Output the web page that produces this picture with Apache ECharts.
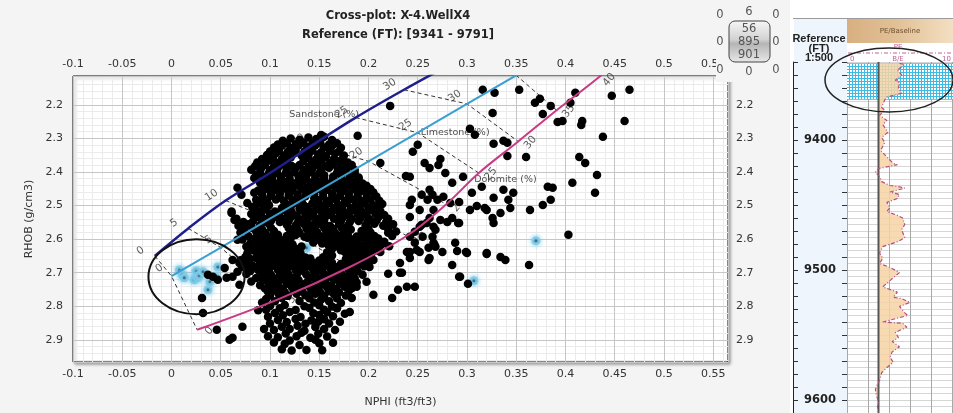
<!DOCTYPE html>
<html>
<head>
<meta charset="utf-8">
<script src="https://cdn.jsdelivr.net/npm/echarts@6/dist/echarts.min.js"></script>
<style>
  html, body { margin: 0; padding: 0; background: #f4f4f4; }
  #c { width: 953px; height: 413px; }
</style>
</head>
<body>
<div id="c"></div>
<script>
// ---- Cross-plot samples: [NPHI (ft3/ft3), RHOB (g/cm3)] ----
const cloudPoints = [
  [.113,2.307],[.121,2.300],[.130,2.304],[.139,2.297],[.147,2.302],[.155,2.295],[.163,2.305],[.152,2.290],
  [.104,2.327],[.112,2.322],[.121,2.329],[.129,2.321],[.138,2.326],[.146,2.320],[.155,2.327],[.163,2.322],[.172,2.328],
  [.097,2.349],[.106,2.344],[.114,2.351],[.123,2.345],[.132,2.350],[.140,2.343],[.149,2.348],[.157,2.353],[.166,2.345],[.175,2.351],
  [.087,2.372],[.099,2.366],[.108,2.373],[.117,2.368],[.134,2.367],[.143,2.371],[.152,2.366],[.161,2.373],[.170,2.368],[.179,2.372],
  [.081,2.393],[.091,2.389],[.100,2.395],[.108,2.388],[.117,2.392],[.126,2.387],[.134,2.394],[.143,2.389],[.152,2.393],[.160,2.387],[.169,2.392],[.178,2.389],[.186,2.394],
  [.086,2.409],[.094,2.415],[.103,2.410],[.111,2.414],[.120,2.408],[.129,2.413],[.137,2.409],[.146,2.416],[.155,2.410],[.164,2.414],[.172,2.408],[.181,2.412],[.190,2.416],
  [.090,2.433],[.098,2.429],[.107,2.435],[.116,2.430],[.125,2.434],[.133,2.428],[.142,2.433],[.151,2.430],[.159,2.435],[.168,2.429],[.177,2.433],[.186,2.428],[.194,2.434],
  [.088,2.455],[.097,2.450],[.106,2.454],[.114,2.449],[.123,2.455],[.132,2.451],[.141,2.456],[.149,2.450],[.158,2.453],[.167,2.449],[.176,2.455],[.185,2.451],[.193,2.456],[.202,2.451],
  [.093,2.477],[.101,2.471],[.110,2.476],[.119,2.470],[.128,2.475],[.136,2.472],[.145,2.478],[.154,2.473],[.163,2.477],[.171,2.471],[.180,2.476],[.189,2.472],[.198,2.477],[.208,2.473],
  [.090,2.494],[.099,2.499],[.117,2.497],[.125,2.492],[.134,2.498],[.143,2.494],[.152,2.499],[.160,2.493],[.169,2.497],[.178,2.492],[.187,2.498],[.196,2.494],[.205,2.499],[.214,2.495],
  [.061,2.518],[.087,2.517],[.096,2.512],[.105,2.518],[.114,2.513],[.122,2.519],[.131,2.514],[.140,2.518],[.149,2.512],[.158,2.517],[.166,2.513],[.175,2.519],[.184,2.514],[.193,2.518],[.202,2.513],[.212,2.517],
  [.066,2.539],[.086,2.535],[.095,2.540],[.104,2.534],[.112,2.539],[.121,2.535],[.130,2.541],[.139,2.536],[.148,2.540],[.156,2.534],[.165,2.539],[.174,2.535],[.183,2.540],[.192,2.536],[.201,2.541],[.210,2.535],[.220,2.539],
  [.068,2.560],[.078,2.556],[.090,2.559],[.099,2.555],[.117,2.556],[.126,2.560],[.134,2.554],[.143,2.559],[.152,2.555],[.161,2.561],[.170,2.556],[.179,2.560],[.197,2.559],[.206,2.554],[.215,2.560],[.225,2.556],
  [.070,2.580],[.086,2.577],[.095,2.582],[.104,2.576],[.121,2.577],[.130,2.582],[.139,2.576],[.148,2.580],[.157,2.575],[.166,2.581],[.175,2.577],[.193,2.576],[.202,2.580],[.220,2.581],[.228,2.577],
  [.072,2.601],[.085,2.597],[.094,2.602],[.103,2.598],[.112,2.603],[.121,2.597],[.138,2.596],[.147,2.602],[.156,2.598],[.165,2.603],[.174,2.597],[.183,2.601],[.192,2.596],[.201,2.602],[.210,2.598],
  [.076,2.622],[.087,2.618],[.096,2.623],[.105,2.617],[.114,2.621],[.123,2.616],[.132,2.622],[.159,2.617],[.168,2.621],[.177,2.616],[.186,2.622],[.195,2.618],[.204,2.623],[.213,2.617],[.221,2.621],
  [.077,2.642],[.086,2.638],[.095,2.643],[.104,2.639],[.113,2.644],[.122,2.638],[.131,2.642],[.158,2.639],[.176,2.638],[.185,2.642],[.194,2.637],[.203,2.643],[.212,2.638],
  [.070,2.663],[.080,2.659],[.096,2.664],[.105,2.660],[.114,2.665],[.123,2.659],[.132,2.663],[.141,2.658],[.150,2.664],[.159,2.660],[.177,2.659],[.186,2.663],[.195,2.658],[.205,2.662],
  [.072,2.684],[.083,2.680],[.095,2.685],[.104,2.679],[.113,2.684],[.122,2.680],[.131,2.686],[.140,2.681],[.149,2.685],[.158,2.679],[.167,2.684],[.176,2.680],[.186,2.685],[.196,2.681],
  [.076,2.704],[.092,2.701],[.101,2.706],[.110,2.700],[.119,2.705],[.128,2.701],[.137,2.706],[.146,2.700],[.155,2.704],[.164,2.699],[.173,2.705],[.182,2.701],
  [.081,2.726],[.093,2.722],[.102,2.727],[.111,2.721],[.120,2.726],[.129,2.722],[.138,2.728],[.147,2.723],[.156,2.727],[.165,2.721],[.174,2.726],[.183,2.722],[.188,2.729],
  [.095,2.747],[.104,2.743],[.113,2.748],[.122,2.742],[.131,2.746],[.140,2.741],[.149,2.747],[.158,2.743],[.167,2.748],[.176,2.742],[.183,2.746],
  [.100,2.768],[.109,2.764],[.118,2.769],[.127,2.763],[.136,2.767],[.146,2.763],[.155,2.769],[.165,2.764],[.177,2.768],
  [.092,2.789],[.105,2.785],[.130,2.784],[.145,2.789],[.160,2.785],[.172,2.790],
  [.096,2.810],[.110,2.806],[.126,2.811],[.140,2.805],[.155,2.810],[.168,2.806],
  [.098,2.831],[.113,2.827],[.131,2.832],[.150,2.826],[.164,2.830],
  [.100,2.851],[.117,2.847],[.136,2.852],[.149,2.846],[.160,2.851],
  [.104,2.871],[.120,2.868],[.135,2.873],[.155,2.868],
  [.108,2.892],[.127,2.889],[.141,2.894],[.158,2.890],
  [.115,2.912],[.130,2.915],[.150,2.910],
  [.122,2.932],[.137,2.930],
  // in-between samples of the main cluster
  [.108,2.318],[.117,2.314],[.126,2.317],[.134,2.313],[.143,2.316],[.151,2.312],[.160,2.318],[.168,2.314],
  [.100,2.339],[.109,2.336],[.118,2.340],[.126,2.335],[.135,2.339],[.143,2.336],[.152,2.341],[.161,2.337],[.170,2.339],
  [.092,2.361],[.103,2.358],[.112,2.362],[.121,2.357],[.139,2.358],[.147,2.362],[.156,2.357],[.165,2.361],[.174,2.359],
  [.085,2.382],[.095,2.379],[.104,2.383],[.113,2.378],[.122,2.382],[.130,2.379],[.139,2.384],[.148,2.380],[.156,2.383],[.165,2.378],[.174,2.382],[.183,2.379],
  [.090,2.400],[.099,2.404],[.107,2.399],[.116,2.403],[.125,2.400],[.133,2.405],[.142,2.401],[.150,2.404],[.168,2.403],[.177,2.400],[.186,2.404],
  [.092,2.425],[.102,2.420],[.111,2.424],[.120,2.421],[.129,2.426],[.137,2.422],[.146,2.425],[.155,2.420],[.164,2.424],[.173,2.421],[.181,2.425],[.190,2.421],
  [.094,2.441],[.103,2.445],[.111,2.440],[.120,2.444],[.129,2.441],[.138,2.446],[.146,2.442],[.155,2.445],[.164,2.440],[.172,2.444],[.181,2.441],[.190,2.445],[.198,2.441],
  [.084,2.462],[.092,2.466],[.101,2.461],[.110,2.465],[.119,2.462],[.128,2.467],[.137,2.463],[.145,2.466],[.154,2.461],[.163,2.465],[.172,2.462],[.180,2.466],[.189,2.462],[.198,2.465],[.205,2.461],
  [.086,2.483],[.097,2.487],[.106,2.482],[.114,2.486],[.123,2.483],[.132,2.488],[.149,2.484],[.158,2.487],[.167,2.482],[.176,2.486],[.185,2.483],[.193,2.487],[.202,2.483],[.211,2.486],
  [.082,2.504],[.094,2.508],[.112,2.507],[.121,2.504],[.130,2.509],[.138,2.505],[.147,2.508],[.156,2.503],[.165,2.507],[.173,2.504],[.182,2.508],[.191,2.504],[.200,2.507],[.209,2.503],
  [.081,2.525],[.091,2.529],[.100,2.524],[.109,2.528],[.118,2.525],[.127,2.530],[.136,2.526],[.144,2.529],[.153,2.524],[.162,2.528],[.171,2.525],[.180,2.529],[.189,2.525],[.198,2.528],[.207,2.524],[.216,2.528],
  [.073,2.549],[.083,2.546],[.092,2.550],[.101,2.545],[.110,2.549],[.119,2.546],[.128,2.551],[.137,2.547],[.146,2.550],[.155,2.545],[.172,2.546],[.181,2.550],[.190,2.546],[.199,2.549],[.208,2.545],[.218,2.549],
  [.074,2.570],[.082,2.567],[.092,2.571],[.101,2.566],[.119,2.567],[.128,2.572],[.137,2.568],[.146,2.571],[.155,2.566],[.164,2.570],[.173,2.567],[.182,2.571],[.200,2.570],[.220,2.570],
  [.078,2.591],[.090,2.588],[.099,2.592],[.108,2.587],[.117,2.591],[.126,2.588],[.135,2.593],[.144,2.589],[.152,2.592],[.161,2.587],[.170,2.591],[.179,2.588],[.188,2.592],[.197,2.588],[.206,2.591],[.224,2.591],
  [.080,2.612],[.090,2.609],[.099,2.613],[.108,2.608],[.117,2.612],[.144,2.610],[.153,2.613],[.162,2.608],[.171,2.612],[.180,2.609],[.189,2.613],[.198,2.609],[.207,2.612],[.216,2.608],
  [.082,2.633],[.091,2.630],[.100,2.634],[.109,2.629],[.118,2.633],[.127,2.630],[.163,2.629],[.172,2.633],[.181,2.630],[.190,2.634],[.199,2.630],[.208,2.633],
  [.075,2.653],[.091,2.650],[.100,2.654],[.109,2.649],[.118,2.653],[.127,2.650],[.136,2.655],[.154,2.654],[.163,2.649],[.181,2.650],[.190,2.654],[.199,2.650],
  [.077,2.674],[.090,2.671],[.100,2.675],[.109,2.670],[.118,2.674],[.127,2.671],[.136,2.676],[.145,2.672],[.154,2.675],[.163,2.670],[.172,2.674],[.181,2.671],[.191,2.675],[.200,2.671],
  [.080,2.695],[.088,2.692],[.099,2.696],[.108,2.691],[.117,2.695],[.126,2.692],[.135,2.697],[.144,2.693],[.153,2.696],[.162,2.691],[.171,2.695],[.180,2.692],[.189,2.696],
  [.086,2.716],[.097,2.713],[.106,2.717],[.115,2.712],[.124,2.716],[.142,2.714],[.151,2.717],[.160,2.712],[.169,2.716],[.178,2.713],[.186,2.717],
  [.090,2.737],[.099,2.734],[.108,2.738],[.117,2.733],[.126,2.737],[.135,2.734],[.144,2.739],[.153,2.735],[.162,2.738],[.171,2.733],[.180,2.737],
  [.098,2.757],[.106,2.754],[.115,2.758],[.124,2.753],[.133,2.757],[.142,2.754],[.151,2.759],[.160,2.755],[.170,2.758],[.180,2.754],
  [.096,2.778],[.112,2.775],[.140,2.776],[.152,2.780],[.168,2.776],
  [.100,2.799],[.115,2.796],[.135,2.800],[.150,2.797],[.163,2.801],
  [.105,2.820],[.120,2.817],[.144,2.821],[.158,2.818],
  [.108,2.841],[.126,2.838],[.142,2.842],[.155,2.839],
  [.112,2.861],[.128,2.858],[.146,2.862],
  [.116,2.881],[.132,2.879],[.149,2.882],
  [.120,2.902],[.146,2.900],
  // lower spread of the cluster
  [.094,2.868],[.098,2.889],[.166,2.871],[.171,2.846],[.112,2.928],[.153,2.931],[.164,2.909],[.088,2.812],[.176,2.822],[.104,2.908],
  // sparse points along the sandstone side
  [.084,2.418],[.067,2.447],[.071,2.468],[.061,2.522],[.064,2.543],[.074,2.557],[.067,2.602],[.086,2.498],[.077,2.492],[.092,2.459],[.102,2.424],
  // low-porosity group near the limestone origin
  [.031,2.775],[.032,2.820],[.037,2.706],[.042,2.712],[.047,2.721],[.056,2.715],[.062,2.712],[.067,2.697],[.069,2.671],[.074,2.668],
  [.079,2.686],[.086,2.656],[.092,2.647],[.097,2.662],[.062,2.662],[.054,2.686],[.069,2.736],[.046,2.870],[.059,2.900],[.062,2.894],[.072,2.861],
  // scattered high-porosity samples
  [.316,2.155],[.328,2.164],[.353,2.155],[.374,2.182],[.369,2.194],[.385,2.203],[.410,2.164],[.405,2.194],[.447,2.173],[.465,2.155],
  [.326,2.224],[.377,2.227],[.392,2.251],[.397,2.248],[.417,2.248],[.416,2.260],[.460,2.248],[.222,2.203],[.303,2.271],[.308,2.289],
  [.327,2.316],[.337,2.307],[.341,2.313],[.341,2.352],[.360,2.355],[.438,2.295],[.189,2.292],[.250,2.319],[.245,2.340],[.212,2.373],
  [.414,2.355],[.420,2.373],[.432,2.409],[.407,2.432],[.382,2.444],[.387,2.447],[.278,2.403],[.296,2.414],[.285,2.432],[.273,2.361],
  [.271,2.379],[.257,2.373],[.262,2.388],[.238,2.412],[.242,2.414],
  [.430,2.462],[.385,2.483],[.377,2.498],[.364,2.513],[.403,2.587],[.363,2.677],[.334,2.653],[.339,2.662],[.320,2.644],[.301,2.733],
  [.292,2.712],[.285,2.677],[.288,2.611],[.299,2.638],[.290,2.635],[.275,2.638],[.266,2.611],[.261,2.626],[.261,2.662],[.247,2.742],
  [.239,2.742],[.230,2.751],[.224,2.775],[.205,2.766],[.220,2.703],[.232,2.700],[.249,2.632],[.247,2.611],[.242,2.638],[.342,2.483],
  [.344,2.507],[.334,2.522],[.326,2.537],[.327,2.552],[.320,2.513],[.315,2.444],[.303,2.513],[.305,2.462],[.292,2.489],[.292,2.552],
  [.285,2.537],[.283,2.492],[.276,2.474],[.270,2.483],[.265,2.468],[.280,2.549],[.268,2.572],[.259,2.552],[.252,2.563],[.255,2.593],
  [.267,2.617],[.327,2.477],[.337,2.453],[.347,2.462],[.254,2.468],[.262,2.453],[.260,2.483],[.310,2.501],[.318,2.507],[.244,2.483],
  [.242,2.498],[.252,2.513],[.266,2.513],[.262,2.537],[.273,2.543],[.291,2.552],[.242,2.534],[.254,2.557],[.266,2.563],[.247,2.578],
  [.242,2.593],[.265,2.593],[.300,2.641],[.268,2.623],[.252,2.638],[.239,2.638],[.242,2.656],[.262,2.656],[.320,2.641],[.293,2.712],
  [.232,2.671],[.234,2.700],[.198,2.727],[.181,2.817],[.168,2.805],[.183,2.775],[.188,2.742],[.194,2.706],[.176,2.721],[.201,2.683],
  [.181,2.677]
];

// samples inside the depth interval picked in the log track
const selectedPoints = [
  [.008,2.692],[.011,2.706],[.013,2.715],[.025,2.695],[.023,2.721],[.026,2.715],[.028,2.709],[.032,2.697],
  [.047,2.683],[.045,2.712],[.039,2.727],[.037,2.751],[.370,2.605],[.307,2.724],[.137,2.626],[.184,2.638],[.122,2.677]
];

// ---- Lithology reference lines, one point per porosity step ----
const porosityLabels = ['0', '5', '10', '15', '20', '25', '30', '35', '40', '45'];
const sandstoneNphi = [-0.017, 0.017, 0.055, 0.100, 0.143, 0.187, 0.236, 0.287];
const sandstoneRhob = [2.650, 2.568, 2.485, 2.403, 2.320, 2.238, 2.155, 2.073];
const limestoneNphi = [0.000, 0.050, 0.100, 0.150, 0.200, 0.250, 0.300, 0.350, 0.400];
const limestoneRhob = [2.710, 2.625, 2.539, 2.454, 2.368, 2.283, 2.197, 2.112, 2.026];
const dolomiteNphi = [0.026, 0.110, 0.181, 0.239, 0.279, 0.312, 0.352, 0.391, 0.432, 0.470];
const dolomiteRhob = [2.870, 2.777, 2.683, 2.590, 2.496, 2.403, 2.309, 2.216, 2.122, 2.029];
const lithologyNames = ['Sandstone (%)', 'Limestone (%)', 'Dolomite (%)'];

// ---- Log track: PE curve against depth ----
const peDepth = [9341,9342,9346,9350,9354,9356,9360,9364,9367,9369,9375,9377,9381,9385,9388,9394,9398,9402,9408,9413,
  9418,9419,9422,9425,9428,9432,9435,9436,9437,9440,9442,9445,9448,9452,9455,9458,9460,9465,9469,9475,
  9478,9482,9487,9491,9495,9498,9502,9506,9513,9517,9521,9522,9525,9528,9533,9535,9540,9541,9544,9548,
  9552,9555,9559,9563,9567,9571,9575,9579,9585,9588,9592,9596,9602,9605,9610];
const peValue = [5.0,5.5,4.8,5.2,4.6,5.0,4.9,5.2,3.8,3.6,3.3,3.6,3.1,3.8,3.4,3.9,3.3,3.6,3.2,3.8,
  4.4,4.8,3.0,2.7,3.1,3.3,4.1,5.0,5.5,4.1,5.0,4.8,3.8,4.1,3.8,4.8,5.3,5.5,5.2,5.5,
  4.9,3.4,3.1,3.4,3.1,4.1,5.0,4.4,3.4,4.8,4.4,5.2,6.0,5.0,5.5,5.8,3.4,5.3,5.7,4.6,
  4.9,4.3,5.0,4.3,4.1,4.4,3.8,3.3,3.1,2.9,2.7,2.8,3.0,2.9,3.0];
const peBaseline = 3;
const selectedInterval = [9341, 9369];

const titleLines = ['Cross-plot: X-4.WellX4', 'Reference (FT): [9341 - 9791]'];
const depthHeader = ['Reference', '(FT)', '1:500'];
const selectionCounts = ['56', '895', '901'];

const FONT = 'DejaVu Sans';

function pairs(xs, ys, n) {
  const out = [];
  for (let i = 0; i < n; i++) out.push([xs[i], ys[i]]);
  return out;
}
function labelled(xs, ys, n) {
  const out = [];
  for (let i = 0; i < n; i++) out.push([xs[i], ys[i], porosityLabels[i]]);
  return out;
}

// dotted fill used to flag the picked interval
const dotCanvas = document.createElement('canvas');
dotCanvas.width = 3; dotCanvas.height = 3;
(function () {
  const g = dotCanvas.getContext('2d');
  g.fillStyle = '#3dbbe3'; g.fillRect(0, 0, 3, 3);
  g.fillStyle = '#ffffff'; g.fillRect(1, 1, 2, 2);
})();

const chart = echarts.init(document.getElementById('c'), null, { renderer: 'canvas', width: 953, height: 413 });

const tickLabel = { fontFamily: FONT, fontSize: 11, color: '#333' };
const mainX = { min: -0.1, max: 0.565 };
const mainY = { min: 2.114, max: 2.966 };

const connectorSeries = [];
for (let i = 0; i < 8; i++) {
  connectorSeries.push({
    type: 'line', xAxisIndex: 0, yAxisIndex: 0, silent: true, symbol: 'none', z: 2,
    data: [[sandstoneNphi[i], sandstoneRhob[i]], [limestoneNphi[i], limestoneRhob[i]], [dolomiteNphi[i], dolomiteRhob[i]]],
    lineStyle: { color: '#333', width: 1, type: [4, 3] }
  });
}

function porosityLabelSeries(data, rotate, offset) {
  return {
    type: 'scatter', xAxisIndex: 0, yAxisIndex: 0, silent: true, z: 2,
    symbolSize: 1, itemStyle: { color: 'rgba(0,0,0,0)' },
    data: data,
    label: {
      show: true, position: 'inside', rotate: rotate, offset: offset,
      formatter: p => p.value[2], fontFamily: FONT, fontSize: 10.5, color: '#333'
    }
  };
}

const option = {
  backgroundColor: '#f4f4f4',
  animation: false,
  textStyle: { fontFamily: FONT },
  grid: [
    { left: 73, top: 76, width: 655, height: 286, show: true, backgroundColor: '#ffffff',
      borderColor: '#111', borderWidth: 1, shadowColor: 'rgba(0,0,0,0.35)', shadowBlur: 3, shadowOffsetX: 2, shadowOffsetY: 2 },
    { left: 847, top: 62, width: 105, height: 351, show: false }
  ],
  xAxis: [
    { gridIndex: 0, type: 'value', position: 'bottom', ...mainX, interval: 0.05, z: 1,
      name: 'NPHI (ft3/ft3)', nameLocation: 'middle', nameGap: 35,
      nameTextStyle: { fontFamily: FONT, fontSize: 11, color: '#333' },
      axisLine: { show: false }, axisTick: { show: false },
      axisLabel: { ...tickLabel, margin: 7, showMaxLabel: false },
      splitLine: { show: true, lineStyle: { color: '#c6c6c6', width: 1 } } },
    { gridIndex: 0, type: 'value', position: 'top', ...mainX, interval: 0.05, z: 1,
      axisLine: { show: false }, axisTick: { show: false },
      axisLabel: { ...tickLabel, margin: 6, showMaxLabel: false },
      splitLine: { show: false } },
    { gridIndex: 0, type: 'value', position: 'bottom', ...mainX, interval: 0.01, z: 0,
      axisLine: { show: false }, axisTick: { show: false }, axisLabel: { show: false },
      splitLine: { show: true, lineStyle: { color: '#ebebeb', width: 1 } } },
    { gridIndex: 1, type: 'value', min: 0, max: 10, interval: 2, z: 2,
      axisLine: { show: false }, axisTick: { show: false }, axisLabel: { show: false },
      splitLine: { show: true, lineStyle: { color: '#a8a8a8', width: 1 } } }
  ],
  yAxis: [
    { gridIndex: 0, type: 'value', position: 'left', inverse: true, ...mainY, splitNumber: 8, z: 1,
      name: 'RHOB (g/cm3)', nameLocation: 'middle', nameGap: 38,
      nameTextStyle: { fontFamily: FONT, fontSize: 11, color: '#333' },
      axisLine: { show: false }, axisTick: { show: false },
      axisLabel: { ...tickLabel, margin: 10, showMinLabel: false, showMaxLabel: false },
      splitLine: { show: true, lineStyle: { color: '#c6c6c6', width: 1 } } },
    { gridIndex: 0, type: 'value', position: 'right', inverse: true, ...mainY, splitNumber: 8, z: 1,
      axisLine: { show: false }, axisTick: { show: false },
      axisLabel: { ...tickLabel, margin: 8, showMinLabel: false, showMaxLabel: false },
      splitLine: { show: false } },
    { gridIndex: 0, type: 'value', position: 'left', inverse: true, ...mainY, splitNumber: 40, z: 0,
      axisLine: { show: false }, axisTick: { show: false }, axisLabel: { show: false },
      splitLine: { show: true, lineStyle: { color: '#ebebeb', width: 1 } } },
    { gridIndex: 1, type: 'value', position: 'left', inverse: true, min: 9340, max: 9610, interval: 10, z: 3,
      axisLine: { show: false },
      axisTick: { show: true, length: 5, lineStyle: { color: '#333' } },
      axisLabel: { margin: 11, formatter: v => (v % 100 === 0 ? String(v) : ''),
        fontFamily: FONT, fontSize: 11.5, fontWeight: 'bold', color: '#222' },
      splitLine: { show: false } },
    { gridIndex: 1, type: 'value', inverse: true, min: 9340, max: 9610, interval: 5, z: 2,
      axisLine: { show: false }, axisTick: { show: false }, axisLabel: { show: false },
      splitLine: { show: true, lineStyle: { color: '#d6d6d6', width: 1 } } },
    { gridIndex: 1, type: 'value', position: 'left', offset: 54, inverse: true, min: 9340, max: 9610, interval: 10, z: 3,
      axisLine: { show: true, lineStyle: { color: '#222', width: 1 } },
      axisTick: { show: true, inside: true, length: 5, lineStyle: { color: '#333' } },
      axisLabel: { show: false }, splitLine: { show: false } }
  ],
  series: [
    ...connectorSeries,
    porosityLabelSeries(labelled(sandstoneNphi, sandstoneRhob, 7), 33, [-9, -12]),
    porosityLabelSeries(labelled(limestoneNphi, limestoneRhob, 7), 33, [-6, -13]),
    porosityLabelSeries(labelled(dolomiteNphi, dolomiteRhob, 9), 50, [7, 10]),
    {
      type: 'scatter', xAxisIndex: 0, yAxisIndex: 0, silent: true, z: 2,
      symbolSize: 1, itemStyle: { color: 'rgba(0,0,0,0)' },
      data: [[0.155, 2.230, lithologyNames[0]], [0.288, 2.283, lithologyNames[1]], [0.339, 2.423, lithologyNames[2]]],
      label: { show: true, position: 'inside', formatter: p => p.value[2], fontFamily: FONT, fontSize: 9.5, color: '#222' }
    },
    {
      // picked samples sit underneath the full sample cloud
      name: 'selected', type: 'scatter', xAxisIndex: 0, yAxisIndex: 0, z: 3,
      symbol: 'circle', symbolSize: 6,
      itemStyle: { color: '#111', opacity: 1, borderColor: 'rgba(130,205,235,0.9)', borderWidth: 3,
        shadowColor: 'rgba(110,200,235,0.9)', shadowBlur: 5 },
      data: selectedPoints
    },
    {
      name: 'samples', type: 'scatter', xAxisIndex: 0, yAxisIndex: 0, z: 4, large: false,
      symbol: 'circle', symbolSize: 8.5, itemStyle: { color: '#000', opacity: 1 },
      data: cloudPoints
    },
    {
      type: 'line', xAxisIndex: 0, yAxisIndex: 0, z: 5, symbol: 'none', smooth: 0.35,
      data: pairs(sandstoneNphi, sandstoneRhob, sandstoneNphi.length),
      lineStyle: { color: '#1f1f8c', width: 2.5 }
    },
    {
      type: 'line', xAxisIndex: 0, yAxisIndex: 0, z: 5, symbol: 'none',
      data: pairs(limestoneNphi, limestoneRhob, limestoneNphi.length),
      lineStyle: { color: '#3a9fd2', width: 2 }
    },
    {
      type: 'line', xAxisIndex: 0, yAxisIndex: 0, z: 5, symbol: 'none', smooth: 0.35,
      data: pairs(dolomiteNphi, dolomiteRhob, dolomiteNphi.length),
      lineStyle: { color: '#c93a86', width: 2 }
    },
    {
      // ring around the low-porosity picks
      type: 'custom', xAxisIndex: 0, yAxisIndex: 0, z: 6, silent: true, clip: false,
      data: [[0.0254, 2.712, 0.0488, 0.1117]],
      renderItem: function (params, api) {
        const c = api.coord([api.value(0), api.value(1)]);
        const s = api.size([api.value(2), api.value(3)]);
        return { type: 'ellipse', shape: { cx: c[0], cy: c[1], rx: s[0], ry: s[1] },
          style: { fill: 'none', stroke: '#111', lineWidth: 2 } };
      }
    },
    // ---- log track ----
    {
      type: 'custom', xAxisIndex: 3, yAxisIndex: 3, z: 3, silent: true,
      data: [[0, selectedInterval[0], 10, selectedInterval[1]]],
      renderItem: function (params, api) {
        const a = api.coord([api.value(0), api.value(1)]);
        const b = api.coord([api.value(2), api.value(3)]);
        return { type: 'rect', shape: { x: a[0], y: a[1], width: b[0] - a[0] + 1, height: b[1] - a[1] },
          style: { fill: { image: dotCanvas, repeat: 'repeat' } } };
      }
    },
    {
      type: 'custom', xAxisIndex: 3, yAxisIndex: 3, z: 4, silent: true,
      data: pairs(peValue, peDepth, peDepth.length),
      renderItem: function (params, api) {
        if (params.dataIndex !== 0) return null;
        const pts = [api.coord([peBaseline, peDepth[0]])];
        for (let i = 0; i < peDepth.length; i++) pts.push(api.coord([peValue[i], peDepth[i]]));
        pts.push(api.coord([peBaseline, peDepth[peDepth.length - 1]]));
        return { type: 'polygon', shape: { points: pts }, style: { fill: 'rgba(246,211,163,0.85)' } };
      }
    },
    {
      type: 'line', xAxisIndex: 3, yAxisIndex: 3, z: 5, symbol: 'none', silent: true,
      data: [[peBaseline, 9340], [peBaseline, 9610]],
      lineStyle: { color: '#555', width: 2 }
    },
    {
      type: 'line', xAxisIndex: 3, yAxisIndex: 3, z: 6, symbol: 'none', silent: true,
      data: pairs(peValue, peDepth, peDepth.length),
      lineStyle: { color: '#b44f86', width: 1.2, type: [4, 2, 1, 2] }
    }
  ],
  graphic: [
    // titles
    { type: 'text', z: 10, x: 398, y: 16, style: { text: titleLines[0], align: 'center', verticalAlign: 'middle',
      font: 'bold 11.5px "DejaVu Sans"', fill: '#222' } },
    { type: 'text', z: 10, x: 398, y: 35, style: { text: titleLines[1], align: 'center', verticalAlign: 'middle',
      font: 'bold 11.5px "DejaVu Sans"', fill: '#222' } },
    // selection counter
    { type: 'rect', z: 10, shape: { x: 716, y: 0, width: 74, height: 82 }, style: { fill: '#f4f4f4' } },
    { type: 'rect', z: 11, shape: { x: 729, y: 21, width: 41, height: 41, r: 6 },
      style: { stroke: '#444', lineWidth: 1,
        fill: new echarts.graphic.LinearGradient(0, 0, 0, 1, [
          { offset: 0, color: '#f7f7f7' }, { offset: 0.45, color: '#d2d2d2' },
          { offset: 0.55, color: '#b5b5b5' }, { offset: 1, color: '#e8e8e8' }]) } },
    { type: 'text', z: 12, x: 749, y: 29, style: { text: selectionCounts[0], align: 'center', verticalAlign: 'middle', font: '11.5px "DejaVu Sans"', fill: '#555' } },
    { type: 'text', z: 12, x: 749, y: 42, style: { text: selectionCounts[1], align: 'center', verticalAlign: 'middle', font: '11.5px "DejaVu Sans"', fill: '#555' } },
    { type: 'text', z: 12, x: 749, y: 55, style: { text: selectionCounts[2], align: 'center', verticalAlign: 'middle', font: '11.5px "DejaVu Sans"', fill: '#555' } },
    { type: 'text', z: 12, x: 749, y: 12, style: { text: '6', align: 'center', verticalAlign: 'middle', font: '11.5px "DejaVu Sans"', fill: '#555' } },
    { type: 'text', z: 12, x: 749, y: 72, style: { text: '0', align: 'center', verticalAlign: 'middle', font: '11.5px "DejaVu Sans"', fill: '#555' } },
    { type: 'text', z: 12, x: 720, y: 15, style: { text: '0', align: 'center', verticalAlign: 'middle', font: '11.5px "DejaVu Sans"', fill: '#555' } },
    { type: 'text', z: 12, x: 720, y: 42, style: { text: '0', align: 'center', verticalAlign: 'middle', font: '11.5px "DejaVu Sans"', fill: '#555' } },
    { type: 'text', z: 12, x: 720, y: 70, style: { text: '0', align: 'center', verticalAlign: 'middle', font: '11.5px "DejaVu Sans"', fill: '#555' } },
    { type: 'text', z: 12, x: 776, y: 15, style: { text: '0', align: 'center', verticalAlign: 'middle', font: '11.5px "DejaVu Sans"', fill: '#555' } },
    { type: 'text', z: 12, x: 776, y: 42, style: { text: '0', align: 'center', verticalAlign: 'middle', font: '11.5px "DejaVu Sans"', fill: '#555' } },
    { type: 'text', z: 12, x: 776, y: 70, style: { text: '0', align: 'center', verticalAlign: 'middle', font: '11.5px "DejaVu Sans"', fill: '#555' } },
    // log panel backdrop
    { type: 'rect', z: -1, shape: { x: 790, y: 0, width: 163, height: 413 }, style: { fill: '#ffffff' } },
    { type: 'rect', z: -1, shape: { x: 794, y: 18, width: 53, height: 395 }, style: { fill: '#eef5fc' } },
    { type: 'line', z: 1, shape: { x1: 793, y1: 18.5, x2: 953, y2: 18.5 }, style: { stroke: '#9a9a9a', lineWidth: 1 } },
    { type: 'rect', z: 1, shape: { x: 847, y: 19, width: 106, height: 24 },
      style: { fill: new echarts.graphic.LinearGradient(0, 0, 1, 0, [
        { offset: 0, color: '#d8af80' }, { offset: 0.5, color: '#e2c299' }, { offset: 1, color: '#f4dfc2' }]) } },
    { type: 'text', z: 2, x: 900, y: 31, style: { text: 'PE/Baseline', align: 'center', verticalAlign: 'middle',
      font: '7px "DejaVu Sans"', fill: '#6e4f2e' } },
    { type: 'text', z: 2, x: 898, y: 47, style: { text: 'PE', align: 'center', verticalAlign: 'middle', font: '7px "DejaVu Sans"', fill: '#c0609a' } },
    { type: 'line', z: 2, shape: { x1: 848, y1: 53, x2: 952, y2: 53 }, style: { stroke: '#c0609a', lineWidth: 1, lineDash: [4, 2, 1, 2] } },
    { type: 'text', z: 2, x: 850, y: 59, style: { text: '0', align: 'left', verticalAlign: 'middle', font: '7px "DejaVu Sans"', fill: '#c0609a' } },
    { type: 'text', z: 2, x: 898, y: 59, style: { text: 'B/E', align: 'center', verticalAlign: 'middle', font: '7px "DejaVu Sans"', fill: '#c0609a' } },
    { type: 'text', z: 2, x: 951, y: 59, style: { text: '10', align: 'right', verticalAlign: 'middle', font: '7px "DejaVu Sans"', fill: '#c0609a' } },
    { type: 'text', z: 2, x: 819, y: 39, style: { text: depthHeader[0], align: 'center', verticalAlign: 'middle', font: 'bold 11px "Liberation Sans"', fill: '#222' } },
    { type: 'text', z: 2, x: 819, y: 48.5, style: { text: depthHeader[1], align: 'center', verticalAlign: 'middle', font: 'bold 11px "Liberation Sans"', fill: '#222' } },
    { type: 'text', z: 2, x: 819, y: 58, style: { text: depthHeader[2], align: 'center', verticalAlign: 'middle', font: 'bold 11px "Liberation Sans"', fill: '#222' } },
    { type: 'ellipse', z: 20, shape: { cx: 889, cy: 80, rx: 64, ry: 32 }, style: { fill: 'none', stroke: '#222', lineWidth: 1.5 } }
  ]
};

chart.setOption(option);
</script>
</body>
</html>
